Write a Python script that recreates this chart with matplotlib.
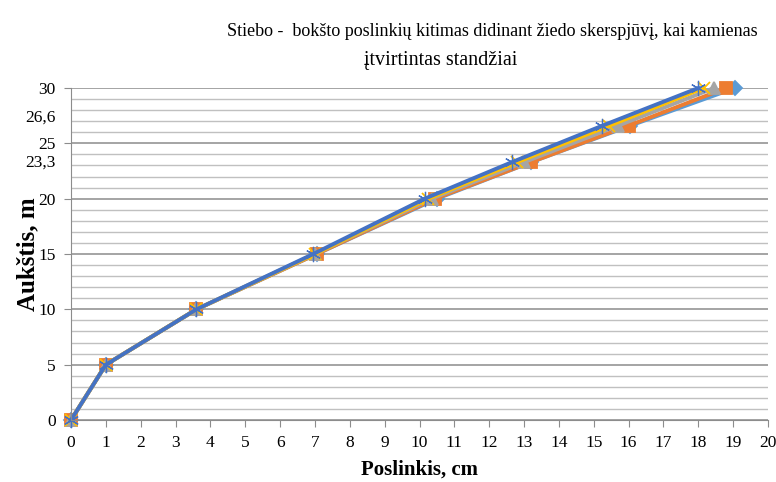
import matplotlib
matplotlib.use("Agg")
import matplotlib.pyplot as plt
from matplotlib.ticker import MultipleLocator

plt.rcParams["font.family"] = ["Liberation Serif", "DejaVu Serif"]

# heights (m) and displacement (cm) for each ring cross-section
heights = [0, 5, 10, 15, 20, 23.3, 26.6, 30]
s1 = [0, 1.0, 3.6, 7.05, 10.5, 13.2, 16.05, 19.05]
s2 = [0, 1.0, 3.6, 7.05, 10.45, 13.2, 16.0, 18.8]
s3 = [0, 1.0, 3.6, 7.0, 10.35, 13.0, 15.7, 18.45]
s4 = [0, 1.0, 3.6, 7.0, 10.25, 12.8, 15.45, 18.15]
s5 = [0, 1.0, 3.6, 6.95, 10.15, 12.65, 15.25, 18.0]

series = [s1, s2, s3, s4, s5]
colors = ["#5B9BD5", "#ED7D31", "#A5A5A5", "#FFC000", "#4472C4"]
markers = ["D", "s", "^", "x", (6, 2, 0)]
msizes = [7, 9, 8, 9, 11]
mews = [1.3, 1.3, 1.3, 1.3, 0.9]

fig = plt.figure(figsize=(7.76, 4.82), dpi=100)
ax = fig.add_axes([0.0915, 0.1286, 0.8982, 0.6888])

for vals, c, m, ms, mw in zip(series, colors, markers, msizes, mews):
    ax.plot(vals, heights, color=c, lw=2.8, marker=m, ms=ms, mew=mw,
            markerfacecolor=c, markeredgecolor=c, clip_on=False)

ax.set_xlim(0, 20)
ax.set_ylim(0, 30)
ax.xaxis.set_major_locator(MultipleLocator(1))
ax.yaxis.set_major_locator(MultipleLocator(5))
ax.yaxis.set_minor_locator(MultipleLocator(1))
ax.grid(axis="y", which="major", color="#8C8C8C", lw=1.1)
ax.grid(axis="y", which="minor", color="#C0C0C0", lw=1.0)
ax.set_axisbelow(True)

for side in ["top", "right"]:
    ax.spines[side].set_visible(False)
for side in ["left", "bottom"]:
    ax.spines[side].set_color("#8C8C8C")
ax.tick_params(axis="both", which="major", labelsize=12.5, color="#8C8C8C",
               length=5, pad=6)
ax.tick_params(axis="y", which="minor", length=0)

# extra height labels
ax.text(-0.45, 27.3, "26,6", ha="right", va="center", fontsize=12.5)
ax.text(-0.45, 23.3, "23,3", ha="right", va="center", fontsize=12.5)

ax.set_xlabel("Poslinkis, cm", fontsize=15, fontweight="bold", labelpad=6)
ax.set_ylabel("Aukštis, m", fontsize=18, fontweight="bold")
ax.yaxis.set_label_coords(-0.045, 0.5)

fig.text(0.635, 0.935, "Stiebo -  bokšto poslinkių kitimas didinant žiedo skerspjūvį, kai kamienas",
         ha="center", va="center", fontsize=13)
fig.text(0.568, 0.875, "įtvirtintas standžiai", ha="center", va="center", fontsize=14.5)

fig.savefig("out.png", dpi=100)
